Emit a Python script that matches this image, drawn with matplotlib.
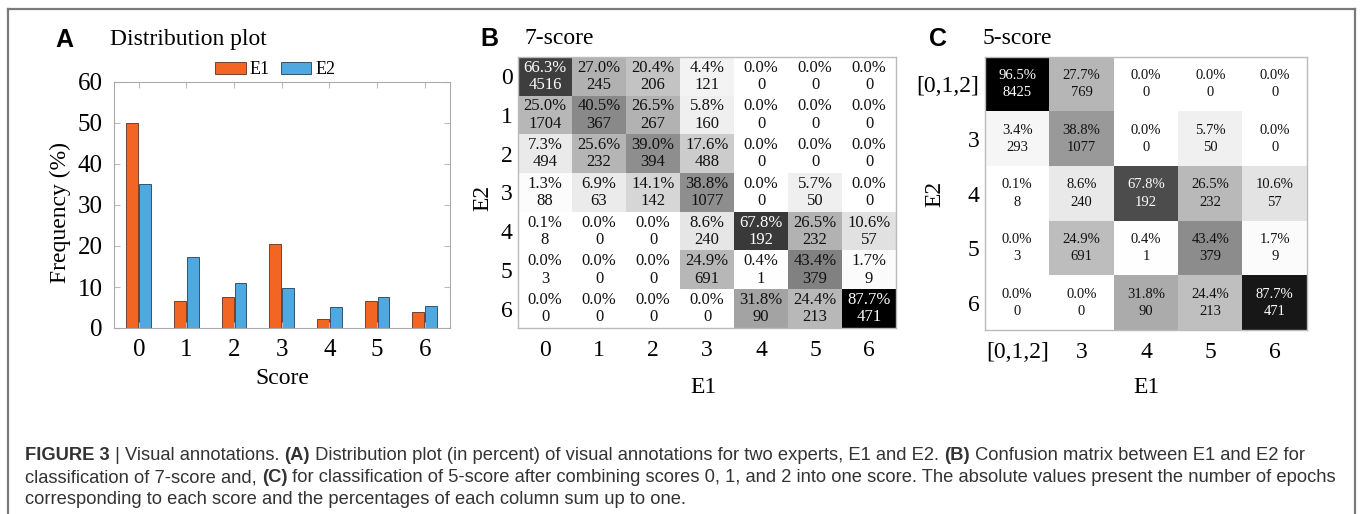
import matplotlib
matplotlib.use('Agg')
import matplotlib.pyplot as plt
from matplotlib.lines import Line2D
import numpy as np

# ---- data ----
scores = ['0', '1', '2', '3', '4', '5', '6']
freq_e1 = [50.1, 6.7, 7.5, 20.5, 2.2, 6.6, 4.0]
freq_e2 = [35.0, 17.3, 11.0, 9.8, 5.1, 7.6, 5.3]

labels_7 = ['0', '1', '2', '3', '4', '5', '6']
pct_7 = np.array([
    [66.3, 27.0, 20.4, 4.4, 0.0, 0.0, 0.0],
    [25.0, 40.5, 26.5, 5.8, 0.0, 0.0, 0.0],
    [7.3, 25.6, 39.0, 17.6, 0.0, 0.0, 0.0],
    [1.3, 6.9, 14.1, 38.8, 0.0, 5.7, 0.0],
    [0.1, 0.0, 0.0, 8.6, 67.8, 26.5, 10.6],
    [0.0, 0.0, 0.0, 24.9, 0.4, 43.4, 1.7],
    [0.0, 0.0, 0.0, 0.0, 31.8, 24.4, 87.7],
])
cnt_7 = np.array([
    [4516, 245, 206, 121, 0, 0, 0],
    [1704, 367, 267, 160, 0, 0, 0],
    [494, 232, 394, 488, 0, 0, 0],
    [88, 63, 142, 1077, 0, 50, 0],
    [8, 0, 0, 240, 192, 232, 57],
    [3, 0, 0, 691, 1, 379, 9],
    [0, 0, 0, 0, 90, 213, 471],
])

labels_5 = ['[0,1,2]', '3', '4', '5', '6']
pct_5 = np.array([
    [96.5, 27.7, 0.0, 0.0, 0.0],
    [3.4, 38.8, 0.0, 5.7, 0.0],
    [0.1, 8.6, 67.8, 26.5, 10.6],
    [0.0, 24.9, 0.4, 43.4, 1.7],
    [0.0, 0.0, 31.8, 24.4, 87.7],
])
cnt_5 = np.array([
    [8425, 769, 0, 0, 0],
    [293, 1077, 0, 50, 0],
    [8, 240, 192, 232, 57],
    [3, 691, 1, 379, 9],
    [0, 0, 90, 213, 471],
])

W, H = 1360, 514
serif = 'Liberation Serif'
sans = 'Liberation Sans'


def box(l, t, r, b):
    return [l / W, 1 - b / H, (r - l) / W, (b - t) / H]


fig = plt.figure(figsize=(W / 100, H / 100), dpi=100)

# outer frame (open at the bottom)
fc = '#7a7a7a'
fig.add_artist(Line2D([8 / W, 1355 / W], [1 - 8.5 / H, 1 - 8.5 / H], color=fc, lw=1.6))
fig.add_artist(Line2D([8 / W, 8 / W], [1 - 8.5 / H, 0], color=fc, lw=1.6))
fig.add_artist(Line2D([1355 / W, 1355 / W], [1 - 8.5 / H, 0], color=fc, lw=1.6))

# ---- A: distribution plot ----
ax = fig.add_axes(box(114, 82, 450, 328))
x = np.arange(len(scores))
ax.bar(x - 0.135, freq_e1, 0.25, color='#f26522', edgecolor='#5a3020', lw=0.6, label='E1')
ax.bar(x + 0.135, freq_e2, 0.25, color='#4fa8e0', edgecolor='#20405a', lw=0.6, label='E2')
ax.set_xlim(-0.52, 6.53)
ax.set_ylim(0, 60)
ax.set_xticks(x)
ax.set_xticklabels(scores)
ax.set_yticks(range(0, 61, 10))
ax.tick_params(direction='in', top=True, right=True, color='#bbbbbb', length=4,
               labelsize=18, pad=8)
for lab in ax.get_xticklabels() + ax.get_yticklabels():
    lab.set_family(serif)
for s in ax.spines.values():
    s.set_color('#aaaaaa')
    s.set_linewidth(0.8)
ax.set_ylabel('Frequency (%)', family=serif, fontsize=17, va='center')
ax.yaxis.set_label_coords(-0.16, 0.47)
ax.set_xlabel('Score', family=serif, fontsize=17, va='center')
ax.xaxis.set_label_coords(0.5, -0.205)
ax.legend(loc='center', bbox_to_anchor=(0.48, 1.05), ncol=2, frameon=False,
          prop={'family': serif, 'size': 13}, handlelength=1.7, handletextpad=0.2,
          columnspacing=0.6, borderpad=0)

fig.text(55 / W, 1 - 40 / H, 'A', family=sans, weight='bold', fontsize=18, va='center')
fig.text(110 / W, 1 - 40 / H, 'Distribution plot', family=serif, fontsize=17, va='center')


# ---- confusion matrices ----
def conf(rect, pct, cnt, labels, fsize, lsp, xlab_pos, ylab_pos):
    a = fig.add_axes(rect)
    n = len(labels)
    a.imshow(pct, cmap='gray_r', vmin=0, vmax=pct.max(), aspect='auto',
             interpolation='nearest')
    for i in range(n):
        for j in range(n):
            c = 'white' if pct[i, j] > 50 else '#111111'
            a.text(j, i, '%.1f%%\n%d' % (pct[i, j], cnt[i, j]), ha='center',
                   va='center', color=c, family=serif, fontsize=fsize,
                   linespacing=lsp)
    a.set_xticks(range(n))
    a.set_yticks(range(n))
    a.set_xticklabels(labels)
    a.set_yticklabels(labels)
    a.tick_params(length=0, labelsize=17)
    a.tick_params(axis='x', pad=9)
    a.tick_params(axis='y', pad=4)
    for lab in a.get_xticklabels() + a.get_yticklabels():
        lab.set_family(serif)
    for s in a.spines.values():
        s.set_color('#bbbbbb')
        s.set_linewidth(1.0)
    a.set_xlabel('E1', family=serif, fontsize=17, va='center')
    a.xaxis.set_label_coords(*xlab_pos)
    a.set_ylabel('E2', family=serif, fontsize=17, va='center')
    a.yaxis.set_label_coords(*ylab_pos)
    return a


conf(box(518, 57, 896, 328), pct_7, cnt_7, labels_7, 12, 1.1, (0.49, -0.218), (-0.093, 0.48))
fig.text(480 / W, 1 - 39 / H, 'B', family=sans, weight='bold', fontsize=18, va='center')
fig.text(525 / W, 1 - 39 / H, '7-score', family=serif, fontsize=17, va='center')

conf(box(985, 57, 1307, 330), pct_5, cnt_5, labels_5, 10.5, 1.4, (0.503, -0.209), (-0.155, 0.50))
fig.text(929 / W, 1 - 39 / H, 'C', family=sans, weight='bold', fontsize=18, va='center')
fig.text(983 / W, 1 - 39 / H, '5-score', family=serif, fontsize=17, va='center')

# ---- caption ----
cap_font = sans
cap_lines = [
    [('FIGURE 3', 'bold'), (' | ', 'normal'), ('Visual annotations. ', 'normal'), ('(A)', 'bold'),
     (' Distribution plot (in percent) of visual annotations for two experts, E1 and E2. ', 'normal'),
     ('(B)', 'bold'), (' Confusion matrix between E1 and E2 for', 'normal')],
    [('classification of 7-score and, ', 'normal'), ('(C)', 'bold'),
     (' for classification of 5-score after combining scores 0, 1, and 2 into one score. '
      'The absolute values present the number of epochs', 'normal')],
    [('corresponding to each score and the percentages of each column sum up to one.', 'normal')],
]
cap_y = [455, 478, 500]
renderer = fig.canvas.get_renderer()
for runs, yy in zip(cap_lines, cap_y):
    xx = 25
    for txt, wt in runs:
        t = fig.text(xx / W, 1 - yy / H, txt, family=cap_font, weight=wt, fontsize=13.2,
                     color='#333333', va='center')
        bb = t.get_window_extent(renderer)
        xx += bb.width

fig.savefig('out.png', dpi=100)
